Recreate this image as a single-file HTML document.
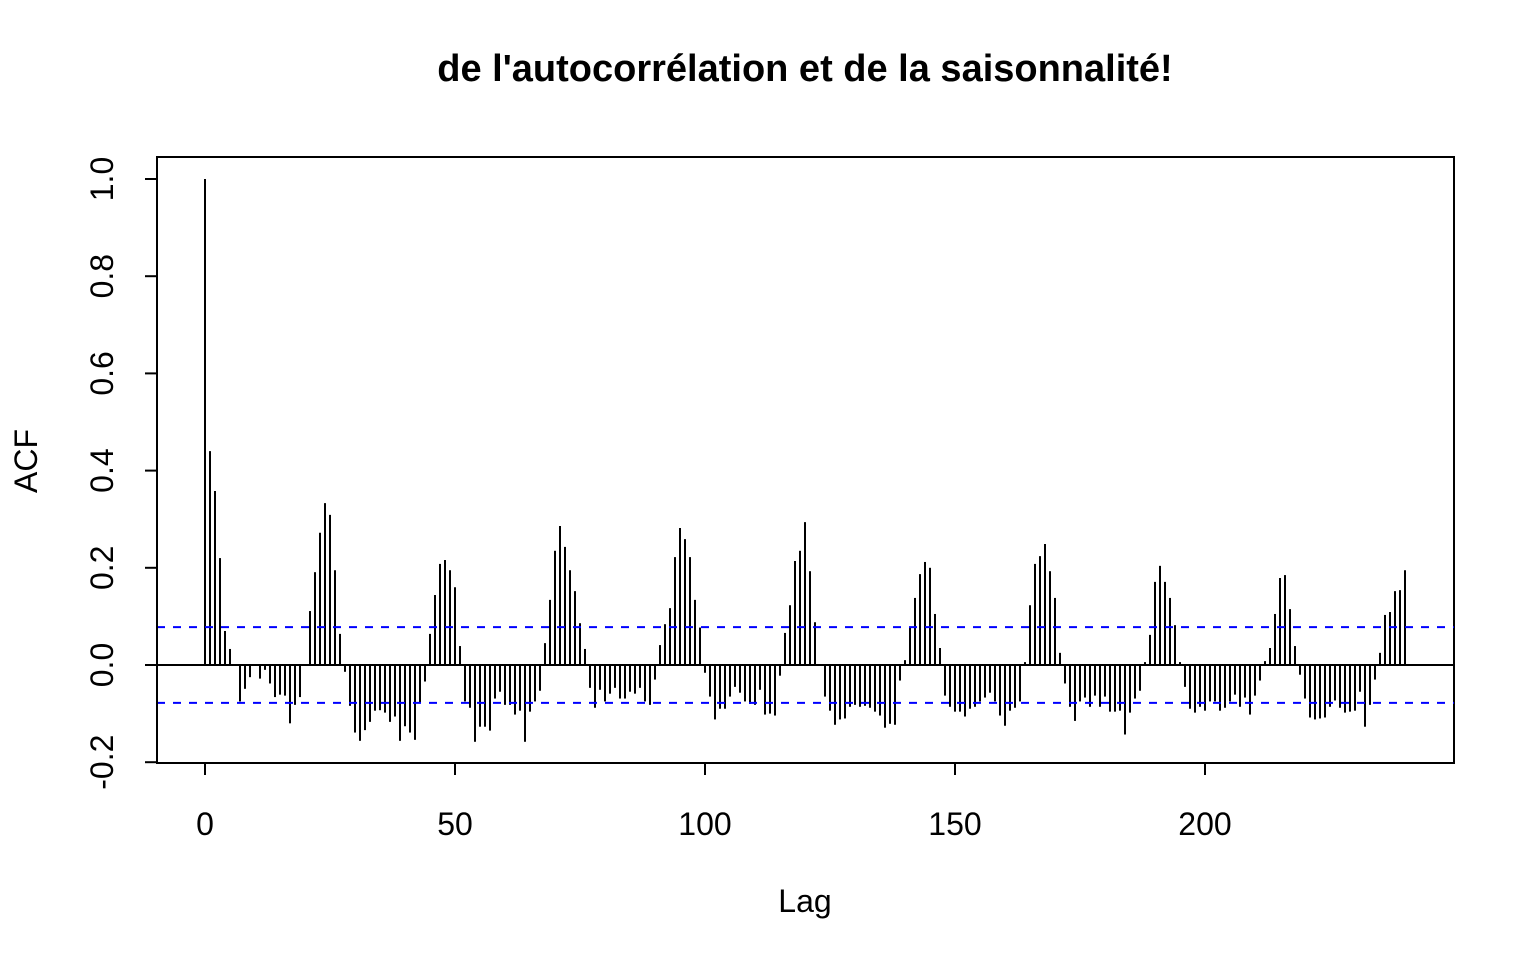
<!DOCTYPE html>
<html><head><meta charset="utf-8"><style>
html,body{margin:0;padding:0;background:#fff;}
svg{display:block;font-family:"Liberation Sans",Arial,sans-serif;}
</style></head><body>
<svg id="chart" width="1536" height="960" viewBox="0 0 1536 960" xmlns="http://www.w3.org/2000/svg">
<text x="805" y="81" text-anchor="middle" font-size="38" font-weight="bold">de l'autocorrélation et de la saisonnalité!</text>
<rect x="157" y="157" width="1297" height="606" fill="none" stroke="#000" stroke-width="2"/>
<g id="bars"></g>
<g id="axes"></g>
<text x="805" y="912" text-anchor="middle" font-size="32">Lag</text>
<text transform="translate(37,461) rotate(-90)" text-anchor="middle" font-size="32">ACF</text>
</svg>
<script>
const acfValues = [1.0,0.44,0.358,0.22,0.07,0.033,0,-0.075,-0.049,-0.025,0,-0.028,-0.01,-0.038,-0.066,-0.061,-0.063,-0.12,-0.082,-0.066,
0,0.111,0.191,0.272,0.333,0.309,0.195,0.064,-0.014,-0.084,-0.139,-0.156,-0.134,-0.117,-0.094,-0.093,-0.098,-0.117,-0.106,-0.156,
-0.126,-0.139,-0.154,-0.079,-0.034,0.064,0.144,0.208,0.216,0.195,0.16,0.039,-0.075,-0.088,-0.158,-0.127,-0.127,-0.135,-0.069,-0.055,
-0.082,-0.082,-0.102,-0.094,-0.158,-0.096,-0.075,-0.053,0.045,0.134,0.235,0.286,0.243,0.195,0.152,0.086,0.033,-0.047,-0.088,-0.051,
-0.075,-0.059,-0.047,-0.069,-0.069,-0.055,-0.059,-0.047,-0.075,-0.082,-0.03,0.041,0.084,0.117,0.222,0.282,0.259,0.222,0.134,0.077,
-0.016,-0.065,-0.112,-0.09,-0.09,-0.065,-0.045,-0.057,-0.075,-0.08,-0.082,-0.051,-0.102,-0.1,-0.104,-0.022,0.066,0.123,0.214,0.235,
0.294,0.193,0.088,0,-0.065,-0.094,-0.123,-0.112,-0.11,-0.086,-0.082,-0.086,-0.084,-0.088,-0.096,-0.104,-0.129,-0.121,-0.123,-0.032,
0.01,0.077,0.138,0.187,0.212,0.2,0.105,0.035,-0.063,-0.086,-0.096,-0.096,-0.106,-0.09,-0.086,-0.075,-0.067,-0.057,-0.075,-0.104,
-0.125,-0.094,-0.088,-0.075,0.006,0.123,0.208,0.224,0.249,0.193,0.138,0.025,-0.038,-0.086,-0.115,-0.075,-0.067,-0.086,-0.063,-0.086,
-0.065,-0.096,-0.096,-0.094,-0.143,-0.098,-0.069,-0.053,0.006,0.062,0.171,0.204,0.171,0.138,0.082,0.006,-0.045,-0.09,-0.098,-0.086,
-0.094,-0.075,-0.075,-0.094,-0.088,-0.075,-0.061,-0.086,-0.067,-0.102,-0.063,-0.032,0.008,0.035,0.105,0.179,0.185,0.115,0.039,-0.02,
-0.069,-0.108,-0.112,-0.11,-0.108,-0.086,-0.073,-0.088,-0.098,-0.096,-0.094,-0.055,-0.127,-0.082,-0.03,0.025,0.103,0.109,0.152,0.154,0.195];
const ciLevel = 0.078;
const xTicks = [0,50,100,150,200];
const yTicks = [-0.2,0.0,0.2,0.4,0.6,0.8,1.0];
const yTickLabels = ["-0.2","0.0","0.2","0.4","0.6","0.8","1.0"];
const NS='http://www.w3.org/2000/svg';
const xs = v => 205 + v*5.0;
const ys = v => 665 - v*486;
const bars=document.getElementById('bars'), axes=document.getElementById('axes');
function mk(tag,attrs,parent){const e=document.createElementNS(NS,tag);for(const k in attrs)e.setAttribute(k,attrs[k]);parent.appendChild(e);return e;}
acfValues.forEach((v,i)=>{
  const l=mk('line',{x1:xs(i),x2:xs(i),y1:ys(0),y2:ys(v),stroke:'#000','stroke-width':2},bars);
  
  
});
const z=mk('line',{x1:157,x2:1454,y1:ys(0),y2:ys(0),stroke:'#000','stroke-width':2},bars);


[ciLevel,-ciLevel].forEach((c,i)=>{
  const l=mk('line',{x1:157,x2:1454,y1:ys(c),y2:ys(c),stroke:'#0000ff','stroke-width':2,'stroke-dasharray':'8,8'},bars);
  
  
});
mk('line',{x1:xs(xTicks[0]),x2:xs(xTicks[xTicks.length-1]),y1:763,y2:763,stroke:'#000','stroke-width':2},axes);
xTicks.forEach(t=>{
  mk('line',{x1:xs(t),x2:xs(t),y1:763,y2:775,stroke:'#000','stroke-width':2},axes);
  const tx=mk('text',{x:xs(t),y:835,'text-anchor':'middle','font-size':32},axes);
  tx.textContent=String(t);
  
  
});
mk('line',{x1:157,x2:157,y1:ys(yTicks[0]),y2:ys(yTicks[yTicks.length-1]),stroke:'#000','stroke-width':2},axes);
yTicks.forEach((t,i)=>{
  mk('line',{x1:145,x2:157,y1:ys(t),y2:ys(t),stroke:'#000','stroke-width':2},axes);
  const tx=mk('text',{transform:'translate(113,'+ys(t)+') rotate(-90)','text-anchor':'middle','font-size':32},axes);
  tx.textContent=yTickLabels[i];
  
  
});
</script>
</body></html>
